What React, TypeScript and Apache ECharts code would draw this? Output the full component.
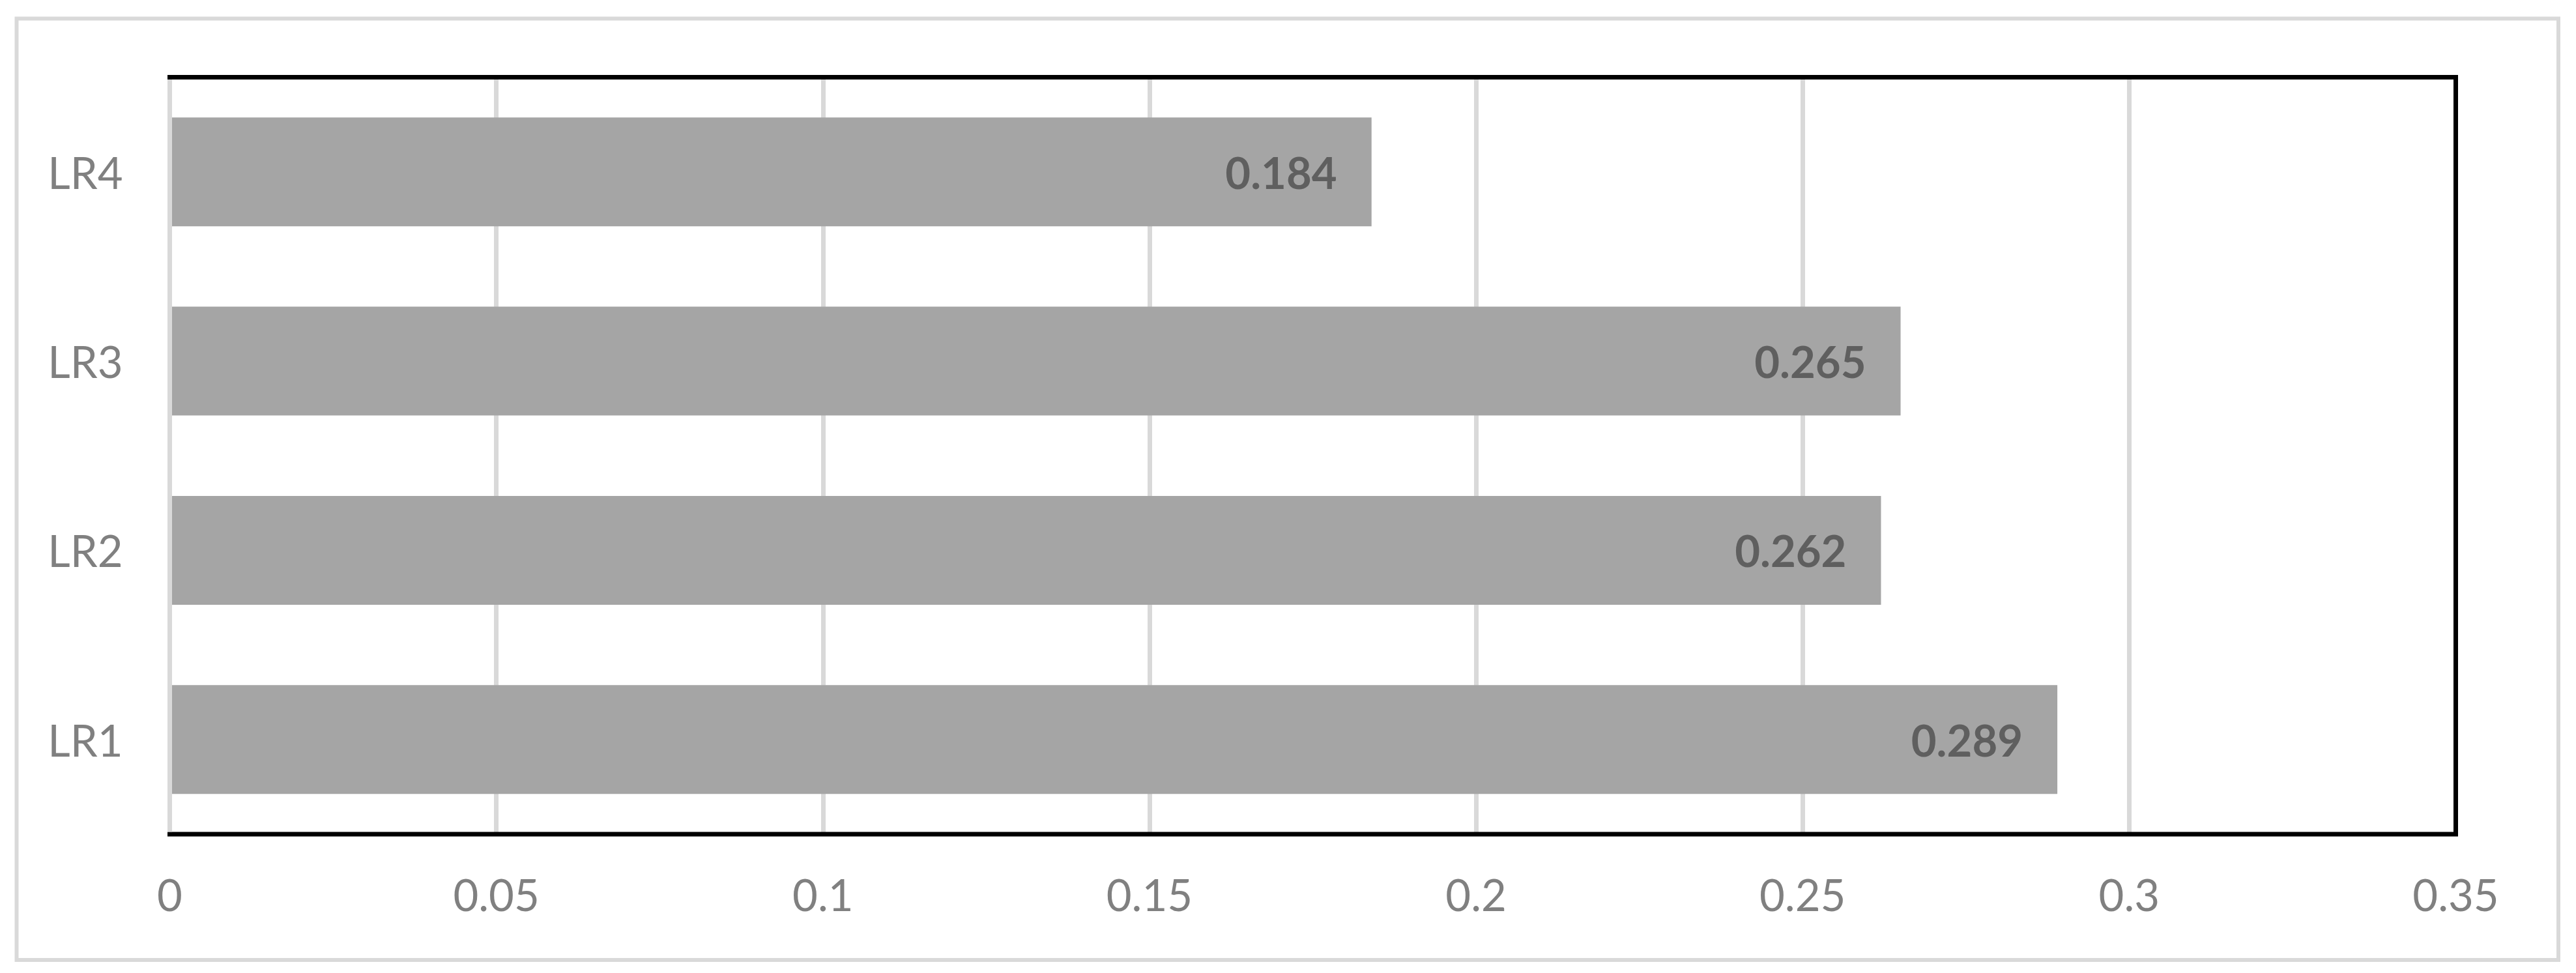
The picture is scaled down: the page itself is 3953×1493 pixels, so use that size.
import React, { useEffect, useRef } from "react";
import * as echarts from "echarts";

const categories = ["LR1", "LR2", "LR3", "LR4"];
const values = [0.289, 0.262, 0.265, 0.184];
const xTicks = [0, 0.05, 0.1, 0.15, 0.2, 0.25, 0.3, 0.35];
const xTickLabels = ["0", "0.05", "0.1", "0.15", "0.2", "0.25", "0.3", "0.35"];

const FONT = "Lato";

const PLOT_L = 260.5;
const PLOT_R = 3768.5;
const PLOT_T = 118.5;
const PLOT_B = 1280;

export default function App() {
  const ref = useRef<HTMLDivElement>(null);
  useEffect(() => {
    if (!ref.current) return;
    const chart = echarts.init(ref.current, null, { renderer: "svg" });
    chart.setOption({
      animation: false,
      backgroundColor: "#ffffff",
      textStyle: { fontFamily: FONT },
      graphic: [
        {
          type: "rect",
          shape: { x: 25.5, y: 28.5, width: 3900.5, height: 1444.5 },
          style: { fill: "none", stroke: "#d9d9d9", lineWidth: 6 },
          z: 100,
        },
        {
          type: "polyline",
          shape: {
            points: [
              [PLOT_L - 3.5, PLOT_T],
              [PLOT_R, PLOT_T],
              [PLOT_R, PLOT_B],
              [PLOT_L - 3.5, PLOT_B],
            ],
          },
          style: { fill: "none", stroke: "#000000", lineWidth: 7, lineJoin: "miter" },
          z: 90,
        },
        {
          type: "line",
          shape: { x1: PLOT_L, y1: PLOT_T + 3.5, x2: PLOT_L, y2: PLOT_B - 3.5 },
          style: { stroke: "#d9d9d9", lineWidth: 7 },
          z: 95,
        },
      ],
      grid: {
        left: PLOT_L,
        right: 3953 - PLOT_R,
        top: PLOT_T,
        bottom: 1493 - PLOT_B,
        show: false,
      },
      xAxis: {
        type: "value",
        min: xTicks[0],
        max: xTicks[xTicks.length - 1],
        interval: 0.05,
        axisLine: { show: false },
        axisTick: { show: false },
        splitLine: { show: true, lineStyle: { color: "#d9d9d9", width: 7 } },
        axisLabel: {
          margin: 58,
          color: "#808080",
          fontSize: 67,
          fontFamily: FONT,
          formatter: (v: number) => {
            const i = xTicks.findIndex((t) => Math.abs(t - v) < 1e-9);
            return i >= 0 ? xTickLabels[i] : String(v);
          },
        },
      },
      yAxis: {
        type: "category",
        data: categories,
        axisLine: { show: false },
        axisTick: { show: false },
        splitLine: { show: false },
        axisLabel: {
          margin: 72,
          color: "#808080",
          fontSize: 67,
          fontFamily: FONT,
        },
      },
      series: [
        {
          type: "bar",
          data: values,
          barCategoryGap: "42.5%",
          itemStyle: { color: "#a5a5a5" },
          label: {
            show: true,
            position: "insideRight",
            distance: 53,
            color: "#5f5f5f",
            fontWeight: "bold",
            fontSize: 67,
            fontFamily: FONT,
            formatter: (p: any) => Number(p.value).toFixed(3),
          },
        },
      ],
    });
    return () => chart.dispose();
  }, []);
  return (
    <div
      ref={ref}
      style={{ position: "fixed", left: 0, top: 0, width: 3953, height: 1493 }}
    />
  );
}
